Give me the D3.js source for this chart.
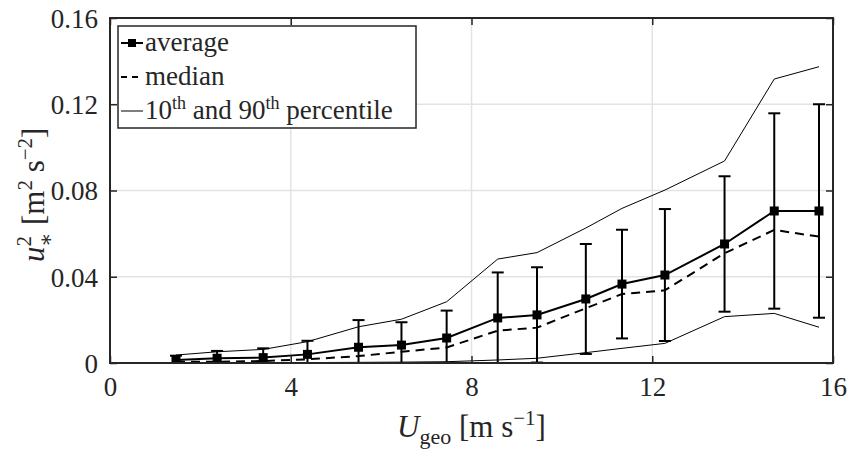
<!DOCTYPE html>
<html>
<head>
<meta charset="utf-8">
<script src="https://cdn.jsdelivr.net/npm/d3@7"></script>
<style>
  body { margin: 0; background: #fff; }
</style>
</head>
<body>
<div id="chart"></div>
<script>
// values
const uGeo = [1.46, 2.37, 3.39, 4.37, 5.5, 6.45, 7.45, 8.58, 9.45, 10.53, 11.33, 12.28, 13.6, 14.7, 15.69]
const average = [0.0014, 0.0022, 0.0025, 0.004, 0.0073, 0.0083, 0.0116, 0.0209, 0.0223, 0.0297, 0.0366, 0.0408, 0.0552, 0.0705, 0.0705]
const stdDev = [0.002, 0.0034, 0.0043, 0.0063, 0.0126, 0.0106, 0.0127, 0.0211, 0.0221, 0.0255, 0.0252, 0.0306, 0.0314, 0.0453, 0.0495]
const median = [0.0006, 0.0006, 0.0009, 0.0017, 0.0032, 0.0052, 0.0072, 0.015, 0.0164, 0.0254, 0.032, 0.0337, 0.0509, 0.0617, 0.0586]
const p10 = [0.0001, 0.0001, 0.0002, 0.0002, 0.0003, 0.0004, 0.0006, 0.0014, 0.0022, 0.0048, 0.0068, 0.0091, 0.0215, 0.023, 0.0166]
const p90 = [0.0037, 0.0052, 0.0063, 0.0099, 0.0168, 0.0203, 0.0284, 0.0482, 0.0512, 0.0626, 0.0717, 0.0802, 0.0937, 0.1317, 0.1374]
const xTicks = [0, 4, 8, 12, 16]
const yTicks = [0, 0.04, 0.08, 0.12, 0.16]

const serif = "'Liberation Serif', 'DejaVu Serif', 'Times New Roman', Times, serif"

const margin = { top: 18, left: 110, right: 14, bottom: 88 }
const width = 847 - margin.left - margin.right
const height = 451 - margin.top - margin.bottom

const svg = d3
  .select('#chart')
  .append('svg')
  .attr('width', 847)
  .attr('height', 451)
  .style('font-family', serif)

const g = svg.append('g')
  .attr('transform', 'translate(' + margin.left + ',' + margin.top + ')')

const x = d3.scaleLinear().domain([0, 16]).range([0, width])
const y = d3.scaleLinear().domain([0, 0.16]).range([height, 0])

const rows = uGeo.map((u, i) => ({
  u: u, avg: average[i], sd: stdDev[i], med: median[i], lo: p10[i], hi: p90[i]
}))

// grid
g.append('g')
  .selectAll('line')
  .data(xTicks.slice(1, -1))
  .enter()
  .append('line')
  .attr('x1', d => x(d)).attr('x2', d => x(d))
  .attr('y1', 0).attr('y2', height)
  .attr('stroke', '#e3e3e3').attr('stroke-width', 1.5)

g.append('g')
  .selectAll('line')
  .data(yTicks.slice(1, -1))
  .enter()
  .append('line')
  .attr('y1', d => y(d)).attr('y2', d => y(d))
  .attr('x1', 0).attr('x2', width)
  .attr('stroke', '#e3e3e3').attr('stroke-width', 1.5)

// clip
svg.append('defs').append('clipPath').attr('id', 'plot')
  .append('rect').attr('width', width).attr('height', height)

const plot = g.append('g').attr('clip-path', 'url(#plot)')

const line = key => d3.line().x(d => x(d.u)).y(d => y(d[key]))

plot.append('path').datum(rows).attr('d', line('hi'))
  .attr('fill', 'none').attr('stroke', '#000').attr('stroke-width', 1)
plot.append('path').datum(rows).attr('d', line('lo'))
  .attr('fill', 'none').attr('stroke', '#000').attr('stroke-width', 1)
plot.append('path').datum(rows).attr('d', line('med'))
  .attr('fill', 'none').attr('stroke', '#000').attr('stroke-width', 2)
  .attr('stroke-dasharray', '9,6')
plot.append('path').datum(rows).attr('d', line('avg'))
  .attr('fill', 'none').attr('stroke', '#000').attr('stroke-width', 2)

// error bars
const bars = plot.selectAll('.err').data(rows).enter().append('g').attr('class', 'err')
bars.append('line')
  .attr('x1', d => x(d.u)).attr('x2', d => x(d.u))
  .attr('y1', d => y(d.avg - d.sd)).attr('y2', d => y(d.avg + d.sd))
  .attr('stroke', '#000').attr('stroke-width', 2)
bars.append('line')
  .attr('x1', d => x(d.u) - 6).attr('x2', d => x(d.u) + 6)
  .attr('y1', d => y(d.avg + d.sd)).attr('y2', d => y(d.avg + d.sd))
  .attr('stroke', '#000').attr('stroke-width', 2)
bars.append('line')
  .attr('x1', d => x(d.u) - 6).attr('x2', d => x(d.u) + 6)
  .attr('y1', d => y(d.avg - d.sd)).attr('y2', d => y(d.avg - d.sd))
  .attr('stroke', '#000').attr('stroke-width', 2)

plot.selectAll('.mark').data(rows).enter().append('rect')
  .attr('x', d => x(d.u) - 4.5).attr('y', d => y(d.avg) - 4.5)
  .attr('width', 9).attr('height', 9).attr('fill', '#000')

// axes (ticks inward, box)
const axisStyle = sel => {
  sel.attr('font-family', null)
  sel.select('.domain').remove()
  sel.selectAll('.tick line').attr('stroke', '#262626').attr('stroke-width', 1.5)
  sel.selectAll('.tick text').style('font-size', '27px').style('font-family', serif).attr('fill', '#262626')
}

g.append('g').attr('transform', 'translate(0,' + height + ')')
  .call(d3.axisBottom(x).tickValues(xTicks).tickFormat(d3.format('d')).tickSizeInner(-7).tickPadding(14))
  .call(axisStyle)
g.append('g')
  .call(d3.axisTop(x).tickValues(xTicks).tickSizeInner(-7).tickFormat(''))
  .call(axisStyle)
g.append('g')
  .call(d3.axisLeft(y).tickValues(yTicks).tickFormat(d => d === 0 ? '0' : d3.format('.2f')(d)).tickSizeInner(-7).tickPadding(12))
  .call(axisStyle)
  .selectAll('.tick text').attr('dy', '0.35em')
g.append('g').attr('transform', 'translate(' + width + ',0)')
  .call(d3.axisRight(y).tickValues(yTicks).tickSizeInner(-7).tickFormat(''))
  .call(axisStyle)

g.append('rect').attr('width', width).attr('height', height)
  .attr('fill', 'none').attr('stroke', '#262626').attr('stroke-width', 2)

// legend
const legend = g.append('g').attr('transform', 'translate(8,8)')
legend.append('rect').attr('width', 298).attr('height', 102)
  .attr('fill', '#fff').attr('stroke', '#262626').attr('stroke-width', 1.5)

const items = [
  { label: 'average', key: 'avg' },
  { label: 'median', key: 'med' },
  { label: 'pct', key: 'pct' }
]
items.forEach((it, i) => {
  const yy = 17 + i * 34
  const row = legend.append('g').attr('transform', 'translate(0,' + yy + ')')
  const ln = row.append('line').attr('x1', 3).attr('x2', 25).attr('y1', 0).attr('y2', 0)
    .attr('stroke', '#000')
  if (it.key === 'avg') {
    ln.attr('stroke-width', 2)
    row.append('rect').attr('x', 10).attr('y', -4).attr('width', 8).attr('height', 8).attr('fill', '#000')
  } else if (it.key === 'med') {
    ln.attr('stroke-width', 2).attr('stroke-dasharray', '6,5')
  } else {
    ln.attr('stroke-width', 1)
  }
  const t = row.append('text').attr('x', 27).attr('y', 8).style('font-size', '27px').attr('fill', '#262626')
  if (it.key === 'pct') {
    t.append('tspan').text('10')
    t.append('tspan').text('th').attr('dy', -10).style('font-size', '18px')
    t.append('tspan').text(' and 90').attr('dy', 10)
    t.append('tspan').text('th').attr('dy', -10).style('font-size', '18px')
    t.append('tspan').text(' percentile').attr('dy', 10)
  } else {
    t.text(it.label)
  }
})

// axis labels
const xl = svg.append('text')
  .attr('x', margin.left + x(8)).attr('y', 437).attr('fill', '#262626')
  .attr('text-anchor', 'middle').style('font-size', '31px')
xl.append('tspan').text('U').style('font-style', 'italic')
xl.append('tspan').text('geo').attr('dy', 7).style('font-size', '22px')
xl.append('tspan').text(' [m s').attr('dy', -7)
xl.append('tspan').text('−1').attr('dy', -12).style('font-size', '21px')
xl.append('tspan').text(']').attr('dy', 12)

const yl = svg.append('text').attr('fill', '#262626')
  .attr('transform', 'translate(44,' + (margin.top + y(0.078)) + ') rotate(-90)')
  .attr('text-anchor', 'middle').style('font-size', '31px')
yl.append('tspan').text('u').style('font-style', 'italic')
yl.append('tspan').text('2').attr('dy', -13).style('font-size', '21px')
yl.append('tspan').text('∗').attr('dx', -11).attr('dy', 22).style('font-size', '21px')
yl.append('tspan').text(' [m').attr('dy', -9)
yl.append('tspan').text('2').attr('dy', -12).style('font-size', '21px')
yl.append('tspan').text(' s').attr('dy', 12)
yl.append('tspan').text('−2').attr('dy', -12).style('font-size', '21px')
yl.append('tspan').text(']').attr('dy', 12)
</script>
</body>
</html>
